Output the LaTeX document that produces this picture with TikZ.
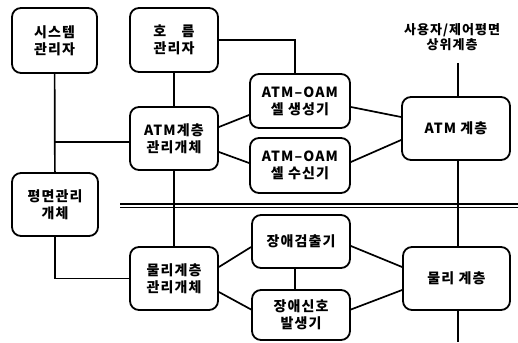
\documentclass[tikz,border=0pt]{standalone}
\usepackage{fontspec}
\newfontfamily\kr[LetterSpace=8]{Noto Sans CJK KR}
\begin{document}
\begin{tikzpicture}[x=1pt,y=-1pt,
  box/.style={draw,line width=1.8pt,rounded corners=9pt,align=center,inner sep=0pt,
    font=\kr\bfseries\fontsize{14}{17}\selectfont},
  ln/.style={line width=1.7pt}]
\useasboundingbox (0,0) rectangle (518,342);
\node[box,minimum width=85pt,minimum height=65pt] (sys) at (54.5,40.5) {시스템\\관리자};
\node[box,minimum width=88pt,minimum height=64pt] (flow) at (174,40) {호\hspace{1.1em}름\\관리자};
\node[box,minimum width=88pt,minimum height=63pt] (atmm) at (174,138.5) {ATM계층\\관리개체};
\node[box,minimum width=100pt,minimum height=54pt] (gen) at (300,101) {ATM–OAM\\셀 생성기};
\node[box,minimum width=100pt,minimum height=55pt] (rcv) at (300,165.5) {ATM–OAM\\셀 수신기};
\node[box,minimum width=108pt,minimum height=63pt] (atml) at (456,128.5) {ATM 계층};
\node[box,minimum width=86pt,minimum height=63pt] (plane) at (55,204.5) {평면관리\\개체};
\node[box,minimum width=88pt,minimum height=63pt] (phym) at (174,278.5) {물리계층\\관리개체};
\node[box,minimum width=98pt,minimum height=53pt] (det) at (301,241.5) {장애검출기};
\node[box,minimum width=98pt,minimum height=50pt] (sig) at (301,315) {장애신호\\발생기};
\node[box,minimum width=107pt,minimum height=63pt] (phyl) at (456.5,278.5) {물리 계층};
\node[align=center,inner sep=0pt,font=\kr\bfseries\fontsize{13}{15.5}\selectfont] (upper) at (452,37) {사용자/제어평면\\상위계층};
\coordinate (topend) at (458,63);
\coordinate (botend) at (458,342);
\coordinate (j1) at (55,142);
\coordinate (dl1) at (120,204);
\coordinate (dl2) at (518,204);
\coordinate (dl3) at (120,207.5);
\coordinate (dl4) at (518,207.5);
% double separator
\draw[line width=1.2pt] (dl1) -- (dl2);
\draw[line width=1.2pt] (dl3) -- (dl4);
% connectors
\draw[ln] (sys) -- (plane);
\draw[ln] (j1) -- (j1 -| atmm.west);
\draw[ln] (plane.south) |- (phym.west);
\draw[ln] (flow.east) -| ([xshift=-5pt]gen.north);
\draw[ln] (flow) -- (atmm);
\draw[ln] (atmm) -- (phym);
\draw[ln] ([yshift=11.5pt]atmm.east) -- ([yshift=-14pt]gen.west);
\draw[ln] ([yshift=-13.5pt]atmm.east) -- ([yshift=2.5pt]rcv.west);
\draw[ln] ([yshift=-6pt]gen.east) -- ([yshift=11.5pt]atml.west);
\draw[ln] ([yshift=3.5pt]rcv.east) -- ([yshift=-11.5pt]atml.west);
\draw[ln] ([yshift=11.5pt]phym.east) -- ([yshift=-5.5pt]det.west);
\draw[ln] ([yshift=-13.5pt]phym.east) -- ([yshift=5.5pt]sig.west);
\draw[ln] ([yshift=-4.5pt]det.east) -- ([yshift=11.5pt]phyl.west);
\draw[ln] ([yshift=5.5pt]sig.east) -- ([yshift=-11.5pt]phyl.west);
\draw[ln] ([xshift=-6pt]det.south) -- ([xshift=-6pt]sig.north);
\draw[ln] (topend) -- (topend |- atml.north);
\draw[ln] (atml.south -| topend) -- (phyl.north -| topend);
\draw[ln] (phyl.south -| topend) -- (botend);
\end{tikzpicture}
\end{document}
